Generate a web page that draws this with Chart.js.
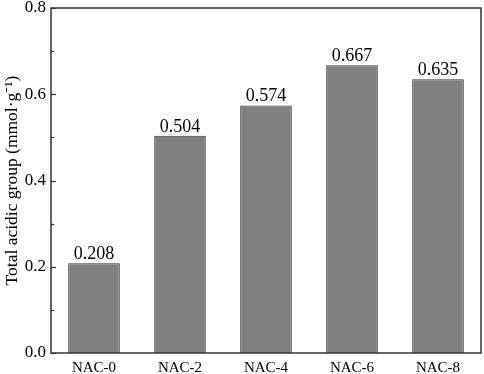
<!DOCTYPE html>
<html lang="en">
<head>
  <meta charset="UTF-8" />
  <title>Total acidic group</title>
  <script src="https://cdn.jsdelivr.net/npm/chart.js"></script>
  <style>
    body { margin: 0; background: #fff; }
    #wrap { width: 484px; height: 374px; }
  </style>
</head>
<body>
  <div id="wrap"><canvas id="grafik" width="484" height="374"></canvas></div>

  <script>
    const kategori = ["NAC-0", "NAC-2", "NAC-4", "NAC-6", "NAC-8"];
    const nilai = [0.208, 0.504, 0.574, 0.667, 0.635];
    const labelNilai = ["0.208", "0.504", "0.574", "0.667", "0.635"];
    const tickMayor = [0, 0.2, 0.4, 0.6, 0.8];
    const tickMinor = [0.1, 0.3, 0.5, 0.7];

    const serif = "'Liberation Serif', 'Times New Roman', serif";
    const garis = "#333333";

    // frame around the plot, inward ticks, value labels above bars
    const hiasan = {
      id: "hiasan",
      afterDraw(chart) {
        const ctx = chart.ctx;
        const a = chart.chartArea;
        const y = chart.scales.y;
        ctx.save();
        ctx.strokeStyle = garis;
        ctx.lineWidth = 1.5;
        ctx.strokeRect(a.left, a.top, a.right - a.left, a.bottom - a.top);

        ctx.lineWidth = 1.2;
        tickMayor.forEach(v => {
          const py = Math.round(y.getPixelForValue(v)) + 0.5;
          ctx.beginPath(); ctx.moveTo(a.left, py); ctx.lineTo(a.left + 5, py); ctx.stroke();
        });
        tickMinor.forEach(v => {
          const py = Math.round(y.getPixelForValue(v)) + 0.5;
          ctx.beginPath(); ctx.moveTo(a.left, py); ctx.lineTo(a.left + 3, py); ctx.stroke();
        });

        ctx.fillStyle = "#000";
        ctx.font = "18px " + serif;
        ctx.textAlign = "center";
        ctx.textBaseline = "alphabetic";
        chart.getDatasetMeta(0).data.forEach((bar, i) => {
          ctx.fillText(labelNilai[i], bar.x, bar.y - 4);
        });
        ctx.restore();
      }
    };

    new Chart(document.getElementById("grafik"), {
      type: "bar",
      data: {
        labels: kategori,
        datasets: [{
          data: nilai,
          backgroundColor: "#808080",
          borderColor: garis,
          borderWidth: 1,
          categoryPercentage: 1,
          barPercentage: 0.6
        }]
      },
      options: {
        responsive: false,
        animation: false,
        layout: { padding: { top: 0, right: 3, left: 0, bottom: 0 } },
        plugins: { legend: { display: false }, tooltip: { enabled: false } },
        scales: {
          x: {
            grid: { display: false, drawTicks: false },
            border: { display: false },
            ticks: { color: "#000", padding: 6, font: { family: serif, size: 15 } },
            afterFit(s) { s.height = 21; }
          },
          y: {
            min: 0,
            max: 0.8,
            grid: { display: false, drawTicks: false },
            border: { display: false },
            ticks: {
              stepSize: 0.2,
              color: "#000",
              padding: 5,
              font: { family: serif, size: 17 },
              callback: v => v.toFixed(1)
            },
            title: {
              display: true,
              text: "Total acidic group (mmol·g⁻¹)",
              color: "#000",
              font: { family: serif, size: 17.5 },
              padding: { top: 2, bottom: 0 }
            },
            afterFit(s) {
              s.width = 51;
              s.paddingTop = 8;
              s.paddingBottom = 0;
            }
          }
        }
      },
      plugins: [hiasan]
    });
  </script>
</body>
</html>
